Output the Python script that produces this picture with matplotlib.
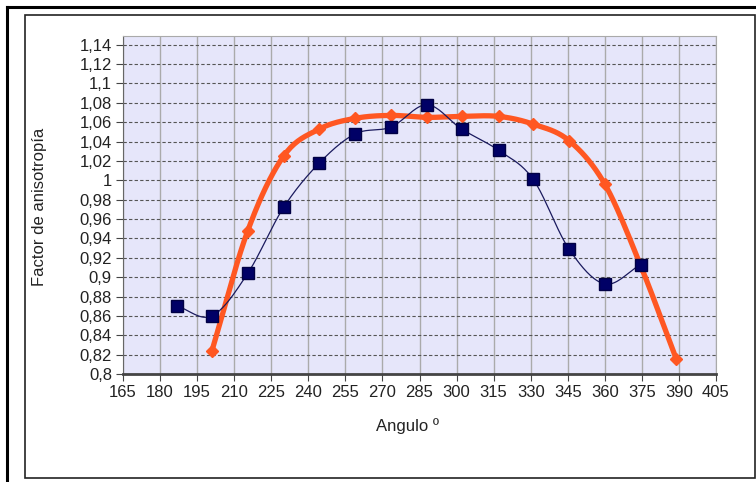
import numpy as np
import matplotlib.pyplot as plt
from matplotlib.lines import Line2D
from matplotlib.patches import Rectangle

plt.rcParams['font.family'] = ['Liberation Sans', 'DejaVu Sans']

# measured points (blue squares)
ang_meas = [187, 201, 215.5, 230, 244.5, 259, 273.5, 288, 302, 317, 331, 345.5, 360, 374.5]
fac_meas = [0.870, 0.860, 0.904, 0.972, 1.018, 1.048, 1.055, 1.078, 1.053, 1.031, 1.001, 0.929, 0.893, 0.913]
err_meas = [0.003] * len(ang_meas)

# fitted curve (orange diamonds)
ang_fit = [201, 215.5, 230, 244.5, 259, 273.5, 288, 302, 317, 331, 345.5, 360, 374.5, 389]
fac_fit = [0.824, 0.948, 1.025, 1.053, 1.064, 1.067, 1.065, 1.066, 1.066, 1.058, 1.041, 0.996, 0.912, 0.815]

x_ticks = list(range(165, 406, 15))
y_ticks = [round(0.8 + 0.02 * i, 2) for i in range(18)]


def smooth(xs, ys, n=20):
    # catmull-rom curve through the points, only for drawing the line
    xs = np.asarray(xs, float)
    ys = np.asarray(ys, float)
    px = np.concatenate([[2 * xs[0] - xs[1]], xs, [2 * xs[-1] - xs[-2]]])
    py = np.concatenate([[2 * ys[0] - ys[1]], ys, [2 * ys[-1] - ys[-2]]])
    out_x, out_y = [], []
    t = np.linspace(0, 1, n, endpoint=False)
    for i in range(1, len(px) - 2):
        for p, out in ((px, out_x), (py, out_y)):
            p0, p1, p2, p3 = p[i - 1], p[i], p[i + 1], p[i + 2]
            out.extend(0.5 * (2 * p1 + (-p0 + p2) * t
                              + (2 * p0 - 5 * p1 + 4 * p2 - p3) * t ** 2
                              + (-p0 + 3 * p1 - 3 * p2 + p3) * t ** 3))
    out_x.append(xs[-1])
    out_y.append(ys[-1])
    return out_x, out_y


fig = plt.figure(figsize=(7.56, 4.82), dpi=100)
W, H = 756, 482

# outer frames
fig.add_artist(Line2D([7 / W, 7 / W], [0, 1 - 7 / H], color='black', lw=2.2))
fig.add_artist(Line2D([7 / W, 1], [1 - 7 / H, 1 - 7 / H], color='black', lw=2.2))
fig.add_artist(Rectangle((25 / W, 1 - 478 / H), 730 / W, 463 / H, fill=False,
                         edgecolor='#222222', lw=1.2, transform=fig.transFigure))

ax = fig.add_axes([123 / W, 1 - 374 / H, 593 / W, 338 / H])
ax.set_facecolor('#e6e6fa')

sx, sy = smooth(ang_fit, fac_fit)
ax.plot(sx, sy, color='#ff5722', lw=3.8, zorder=3, solid_capstyle='round')
ax.plot(ang_fit, fac_fit, 'D', color='#ff5722', ms=6, zorder=3)

bx, by = smooth(ang_meas, fac_meas)
ax.plot(bx, by, color='#1a1a5e', lw=0.9, zorder=4)
ax.errorbar(ang_meas, fac_meas, yerr=err_meas, fmt='s', color='#000066',
            ms=9, mec='#000044', ecolor='#333355', elinewidth=1, capsize=3, zorder=5)

ax.set_xlim(165, 405)
ax.set_ylim(0.8, 1.149)
ax.set_xticks(x_ticks)
ax.set_xticklabels([str(v) for v in x_ticks])
ax.set_yticks(y_ticks)
ax.set_yticklabels([('%g' % v).replace('.', ',') for v in y_ticks])
ax.tick_params(labelsize=12, length=5, color='#444444', labelcolor='#222222', pad=3)

ax.grid(axis='x', color='#aaaaaa', lw=1, ls='-')
ax.grid(axis='y', color='#555555', lw=0.8, ls=(0, (3, 2)))
ax.set_axisbelow(True)

for s in ('top', 'right'):
    ax.spines[s].set_color('#aaaaaa')
ax.spines['left'].set_color('#666666')
ax.spines['bottom'].set_color('#444444')
ax.spines['bottom'].set_linewidth(2)

fig.text(407 / W, 1 - 426 / H, 'Angulo º', fontsize=12, color='#222222',
         ha='center', va='center')
fig.text(40 / W, 1 - 207 / H, 'Factor de anisotropía', fontsize=12, color='#222222',
         ha='center', va='center', rotation=90)

fig.savefig('out.png', dpi=100)
